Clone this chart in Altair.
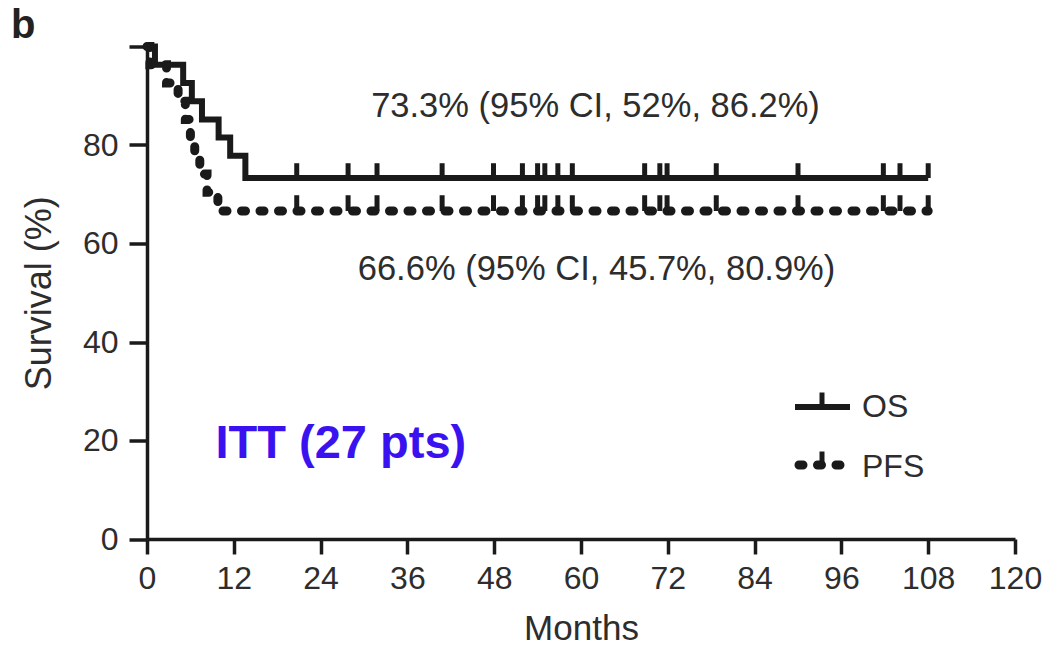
import altair as alt
import pandas as pd

# ---------------- data ----------------
os_time = [0, 1.1, 5.0, 6.2, 7.6, 9.9, 11.5, 13.6, 108]
os_surv = [100, 96.3, 92.6, 88.9, 85.2, 81.5, 77.8, 73.3, 73.3]

pfs_time = [0, 0.4, 2.7, 4.3, 5.3, 6.0, 6.6, 7.3, 8.3, 9.8, 108]
pfs_surv = [100, 96.3, 92.6, 88.9, 85.2, 81.5, 77.8, 74.1, 70.4, 66.6, 66.6]

censor_time = [20.7, 27.8, 31.8, 40.8, 47.9, 51.9, 54.0, 55.0, 56.8, 58.8,
               68.8, 70.9, 71.9, 78.7, 90.0, 101.8, 104.1, 108.0]
os_final = 73.3
pfs_final = 66.6

x_ticks = [0, 12, 24, 36, 48, 60, 72, 84, 96, 108, 120]
y_ticks = [0, 20, 40, 60, 80, 100]

annot_os = ["73.3% (95% CI, 52%, 86.2%)"]
annot_pfs = ["66.6% (95% CI, 45.7%, 80.9%)"]
itt_label = ["ITT (27 pts)"]
panel_label = ["b"]
legend_os = ["OS"]
legend_pfs = ["PFS"]

# ---------------- styling ----------------
INK = "#1a1a1a"
TXT = "#2d2d2d"
FONT = "Liberation Sans"
W, H = 868, 492.5

os_df = pd.DataFrame({"Months": os_time, "Survival": os_surv})
pfs_df = pd.DataFrame({"Months": pfs_time, "Survival": pfs_surv})
cens_os = pd.DataFrame({"Months": censor_time, "Survival": [os_final] * len(censor_time)})
cens_pfs = pd.DataFrame({"Months": censor_time, "Survival": [pfs_final] * len(censor_time)})

x_enc = alt.X(
    "Months:Q",
    scale=alt.Scale(domain=[0, 120], nice=False, zero=False),
    axis=alt.Axis(
        values=x_ticks, title="Months", grid=False,
        tickSize=15, tickWidth=3.5, tickColor=INK,
        domainWidth=3.5, domainColor=INK,
        labelFont=FONT, labelFontSize=32, labelColor=TXT, labelPadding=9,
        titleFont=FONT, titleFontSize=35, titleFontWeight="normal",
        titleColor=TXT, titlePadding=17, labelFlush=False,
    ),
)
y_enc = alt.Y(
    "Survival:Q",
    scale=alt.Scale(domain=[0, 100], nice=False),
    axis=alt.Axis(
        values=y_ticks, title="Survival (%)", grid=False,
        labelExpr="datum.value == 100 ? '' : datum.label",
        tickSize=18, tickWidth=3.5, tickColor=INK,
        domainWidth=3.5, domainColor=INK,
        labelFont=FONT, labelFontSize=32, labelColor=TXT, labelPadding=11,
        titleFont=FONT, titleFontSize=36, titleFontWeight="normal",
        titleColor=TXT, titlePadding=24, labelFlush=False,
    ),
)

os_line = alt.Chart(os_df).mark_line(
    interpolate="step-after", color=INK, strokeWidth=6, strokeJoin="miter", strokeCap="butt"
).encode(x=x_enc, y=y_enc)

pfs_line = alt.Chart(pfs_df).mark_line(
    interpolate="step-after", color=INK, strokeWidth=9, strokeDash=[4, 14.5], strokeCap="round"
).encode(x=x_enc, y=y_enc)

os_cens = alt.Chart(cens_os).transform_calculate(Top="datum.Survival + 3").mark_rule(
    color=INK, strokeWidth=5
).encode(x=x_enc, y=y_enc, y2="Top:Q")

pfs_cens = alt.Chart(cens_pfs).transform_calculate(Top="datum.Survival + 3.2").mark_rule(
    color=INK, strokeWidth=5
).encode(x=x_enc, y=y_enc, y2="Top:Q")


def text_layer(values, x, y, size, color=TXT, weight="normal", align="left"):
    return alt.Chart(pd.DataFrame({"t": values})).mark_text(
        font=FONT, fontSize=size, fontWeight=weight, color=color,
        align=align, baseline="alphabetic"
    ).encode(text="t:N", x=alt.value(x), y=alt.value(y))


t_os = text_layer(annot_os, 448.5, 70.2, 34.5, align="center")
t_pfs = text_layer(annot_pfs, 449.5, 233.5, 34.5, align="center")
t_itt = text_layer(itt_label, 68.5, 411.8, 47, color="#3a12ef", weight="bold")
t_b = text_layer(panel_label, -136, -8.5, 40, color="#222222", weight="bold")
t_leg_os = text_layer(legend_os, 715, 370, 32)
t_leg_pfs = text_layer(legend_pfs, 715, 430, 32)

one = pd.DataFrame({"k": [0]})
leg_os_line = alt.Chart(one).mark_rule(color=INK, strokeWidth=6).encode(
    x=alt.value(648), x2=alt.value(703), y=alt.value(360.5))
leg_os_tick = alt.Chart(one).mark_rule(color=INK, strokeWidth=5).encode(
    x=alt.value(675), y=alt.value(346), y2=alt.value(360.5))
leg_pfs_line = alt.Chart(one).mark_rule(
    color=INK, strokeWidth=9, strokeDash=[4, 14.5], strokeCap="round").encode(
    x=alt.value(652), x2=alt.value(700), y=alt.value(418.5))
leg_pfs_tick = alt.Chart(one).mark_rule(color=INK, strokeWidth=5).encode(
    x=alt.value(675), y=alt.value(405), y2=alt.value(418.5))

chart = alt.layer(
    pfs_line, os_line, pfs_cens, os_cens,
    t_os, t_pfs, t_itt, t_b, t_leg_os, t_leg_pfs,
    leg_os_line, leg_os_tick, leg_pfs_line, leg_pfs_tick,
).properties(
    width=W, height=H,
    autosize=alt.AutoSizeParams(type="none"),
    padding={"left": 147, "top": 46.5, "right": 28, "bottom": 107},
    background="white",
).configure_view(stroke=None)

chart.save("out.html", embed_options={"renderer": "svg", "actions": False})
